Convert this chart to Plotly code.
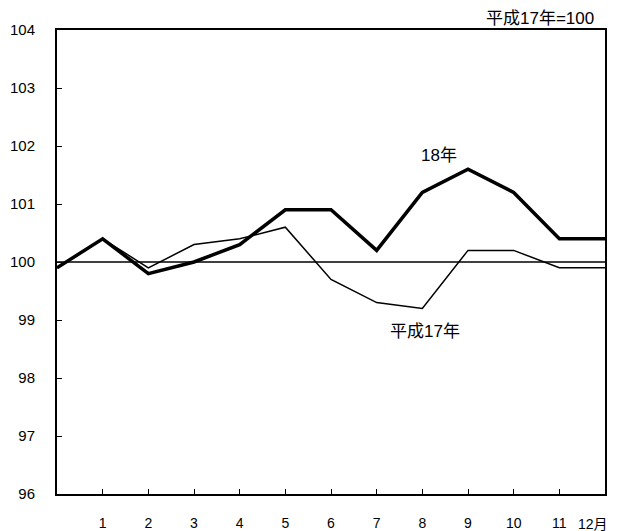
import plotly.graph_objects as go

months = [0, 1, 2, 3, 4, 5, 6, 7, 8, 9, 10, 11, 12]
tick_vals = [1, 2, 3, 4, 5, 6, 7, 8, 9, 10, 11]
tick_text = ["1", "2", "3", "4", "5", "6", "7", "8", "9", "10", "11"]
last_tick_val = 12
last_tick_text = "12月"
h18 = [99.9, 100.4, 99.8, 100.0, 100.3, 100.9, 100.9, 100.2, 101.2, 101.6, 101.2, 100.4, 100.4]
h17 = [99.9, 100.4, 99.9, 100.3, 100.4, 100.6, 99.7, 99.3, 99.2, 100.2, 100.2, 99.9, 99.9]
base = [100] * len(months)

FONT = "Liberation Sans, Arial, Noto Sans CJK JP, sans-serif"

fig = go.Figure()
fig.add_trace(go.Scatter(x=months, y=base, mode="lines",
                         line=dict(color="black", width=1.5), hoverinfo="skip"))
fig.add_trace(go.Scatter(x=months, y=h17, mode="lines",
                         line=dict(color="black", width=1.5), name="平成17年"))
fig.add_trace(go.Scatter(x=months, y=h18, mode="lines",
                         line=dict(color="black", width=3.5), name="18年"))

fig.add_annotation(x=8.36, y=101.84, text="18年", showarrow=False,
                   font=dict(size=17, color="black", family=FONT))
fig.add_annotation(x=8.05, y=98.80, text="平成17年", showarrow=False,
                   font=dict(size=17, color="black", family=FONT))
fig.add_annotation(xref="paper", yref="paper", x=1.0, y=1.0, xanchor="right", yanchor="middle",
                   text="平成17年=100", showarrow=False, xshift=-9, yshift=12,
                   font=dict(size=17, color="black", family=FONT))
# last month label
fig.add_annotation(xref="x", yref="paper", x=last_tick_val, y=0, xanchor="right", yanchor="middle",
                   text=last_tick_text, showarrow=False, xshift=5, yshift=-30,
                   font=dict(size=14, color="black", family=FONT))

# the page body adds an 8px offset, so the figure is sized to fit the window
fig.update_layout(
    width=611, height=523,
    margin=dict(l=49, r=14, t=22, b=37),
    paper_bgcolor="white", plot_bgcolor="white",
    showlegend=False,
    font=dict(family=FONT, size=15, color="black"),
    xaxis=dict(range=[0, 12], tickmode="array", tickvals=tick_vals, ticktext=tick_text,
               ticks="inside", ticklen=5, tickcolor="black", showgrid=False, zeroline=False,
               showline=True, linecolor="black", linewidth=2, mirror=True, automargin=False,
               tickfont=dict(size=14), ticklabelstandoff=15),
    yaxis=dict(range=[96, 104], dtick=1, ticks="inside", ticklen=5, tickcolor="black",
               showgrid=False, zeroline=False, showline=True, linecolor="black", automargin=False,
               linewidth=2, mirror=True, tickfont=dict(size=15), ticklabelstandoff=17),
)

fig.write_html("out.html")
